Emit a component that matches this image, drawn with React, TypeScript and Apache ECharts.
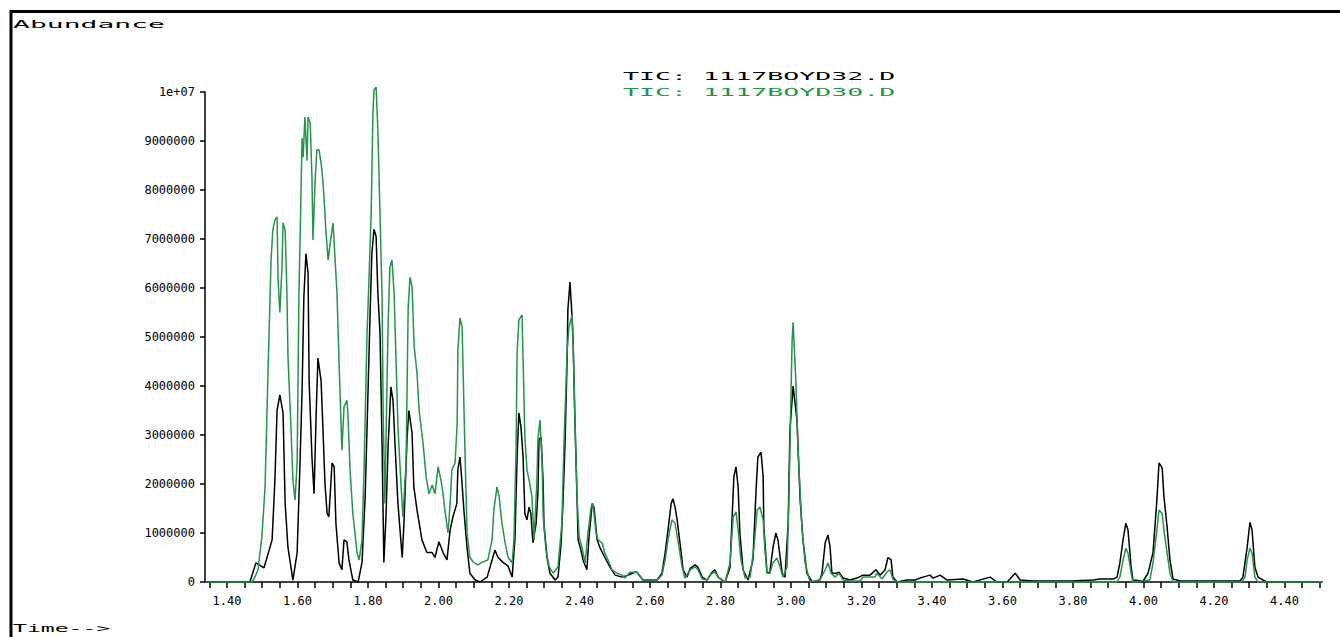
import React, { useEffect, useRef } from "react";
import * as echarts from "echarts";

const SERIES_NAMES = ["TIC: 1117BOYD32.D", "TIC: 1117BOYD30.D"];
const Y_TITLE = "Abundance";
const X_TITLE = "Time-->";

const X_LABELS = [1.4, 1.6, 1.8, 2.0, 2.2, 2.4, 2.6, 2.8, 3.0, 3.2, 3.4, 3.6, 3.8, 4.0, 4.2, 4.4];
const X_TICKS = [
  1.35, 1.4, 1.45, 1.5, 1.55, 1.6, 1.65, 1.7, 1.75, 1.8, 1.85, 1.9, 1.95, 2.0, 2.05, 2.1, 2.15, 2.2, 2.25,
  2.3, 2.35, 2.4, 2.45, 2.5, 2.55, 2.6, 2.65, 2.7, 2.75, 2.8, 2.85, 2.9, 2.95, 3.0, 3.05, 3.1, 3.15, 3.2,
  3.25, 3.3, 3.35, 3.4, 3.45, 3.5, 3.55, 3.6, 3.65, 3.7, 3.75, 3.8, 3.85, 3.9, 3.95, 4.0, 4.05, 4.1, 4.15,
  4.2, 4.25, 4.3, 4.35, 4.4, 4.45, 4.5,
];
const X_MIN = 1.3376;
const X_MAX = 4.5064;
const Y_MAX = 1e7;
const Y_STEP = 1e6;

// TIC: 1117BOYD32.D (black) — [time (min), abundance]
const D32: [number, number][] = [
  [1.338, 0], [1.465, 0], [1.482, 0.39e6], [1.505, 0.29e6], [1.528, 0.86e6], [1.536, 2.08e6], [1.542, 3.5e6],
  [1.55, 3.82e6], [1.559, 3.45e6], [1.565, 1.6e6], [1.573, 0.7e6], [1.587, 0.04e6], [1.599, 0.6e6], [1.607, 2.4e6],
  [1.613, 3.9e6], [1.618, 5.8e6], [1.624, 6.7e6], [1.63, 6.3e6], [1.633, 4.1e6], [1.641, 2.55e6], [1.647, 1.8e6],
  [1.653, 3.45e6], [1.658, 4.57e6], [1.667, 4.1e6], [1.672, 3.16e6], [1.678, 2.0e6], [1.684, 1.4e6], [1.689, 1.33e6],
  [1.698, 2.43e6], [1.704, 2.35e6], [1.709, 1.2e6], [1.718, 0.39e6], [1.726, 0.25e6], [1.732, 0.86e6], [1.74, 0.82e6],
  [1.746, 0.45e6], [1.757, 0.04e6], [1.772, 0], [1.783, 0.4e6], [1.792, 1.74e6], [1.8, 3.86e6], [1.806, 5.5e6],
  [1.811, 6.7e6], [1.817, 7.2e6], [1.823, 7.05e6], [1.828, 5.9e6], [1.834, 5.1e6], [1.84, 2.75e6], [1.845, 0.4e6],
  [1.851, 1.33e6], [1.857, 2.76e6], [1.865, 3.98e6], [1.871, 3.7e6], [1.877, 2.76e6], [1.885, 1.6e6], [1.897, 0.5e6],
  [1.902, 1.2e6], [1.911, 2.96e6], [1.916, 3.5e6], [1.925, 3.04e6], [1.93, 1.94e6], [1.939, 1.47e6], [1.953, 0.86e6],
  [1.967, 0.6e6], [1.982, 0.6e6], [1.99, 0.5e6], [2.001, 0.82e6], [2.013, 0.6e6], [2.024, 0.45e6], [2.033, 1.06e6],
  [2.041, 1.33e6], [2.052, 1.6e6], [2.055, 2.3e6], [2.061, 2.55e6], [2.067, 2.0e6], [2.072, 1.47e6], [2.081, 0.7e6],
  [2.089, 0.18e6], [2.104, 0.04e6], [2.118, 0], [2.138, 0.1e6], [2.152, 0.45e6], [2.16, 0.65e6], [2.169, 0.5e6],
  [2.183, 0.4e6], [2.197, 0.33e6], [2.209, 0.1e6], [2.217, 0.9e6], [2.223, 2.55e6], [2.228, 3.45e6], [2.234, 3.16e6],
  [2.24, 2.55e6], [2.245, 1.4e6], [2.251, 1.27e6], [2.257, 1.53e6], [2.262, 1.4e6], [2.268, 0.8e6], [2.277, 1.2e6],
  [2.282, 1.8e6], [2.285, 2.9e6], [2.291, 2.96e6], [2.297, 2.0e6], [2.299, 1.2e6], [2.308, 0.5e6], [2.316, 0.18e6],
  [2.331, 0.04e6], [2.339, 0.1e6], [2.348, 0.8e6], [2.353, 1.6e6], [2.359, 2.83e6], [2.365, 4.6e6], [2.367, 5.55e6],
  [2.373, 6.12e6], [2.379, 5.4e6], [2.382, 4.88e6], [2.387, 3.3e6], [2.393, 1.74e6], [2.396, 0.86e6], [2.404, 0.65e6],
  [2.41, 0.45e6], [2.421, 0.25e6], [2.427, 0.92e6], [2.436, 1.6e6], [2.441, 1.53e6], [2.45, 0.86e6], [2.458, 0.7e6],
  [2.472, 0.5e6], [2.487, 0.3e6], [2.501, 0.14e6], [2.521, 0.1e6], [2.538, 0.14e6], [2.557, 0.2e6], [2.563, 0.2e6],
  [2.58, 0.04e6], [2.62, 0.04e6], [2.634, 0.18e6], [2.643, 0.6e6], [2.651, 1.06e6], [2.66, 1.6e6], [2.665, 1.7e6],
  [2.671, 1.53e6], [2.677, 1.27e6], [2.685, 0.8e6], [2.694, 0.25e6], [2.705, 0.1e6], [2.714, 0.28e6], [2.728, 0.35e6],
  [2.736, 0.3e6], [2.748, 0.1e6], [2.762, 0.04e6], [2.776, 0.2e6], [2.784, 0.25e6], [2.793, 0.1e6], [2.813, 0],
  [2.827, 0.3e6], [2.833, 1.33e6], [2.838, 2.15e6], [2.844, 2.35e6], [2.85, 1.94e6], [2.855, 1.0e6], [2.864, 0.25e6],
  [2.878, 0.04e6], [2.892, 0.45e6], [2.901, 1.88e6], [2.906, 2.55e6], [2.915, 2.65e6], [2.921, 2.15e6], [2.923, 1.12e6],
  [2.932, 0.18e6], [2.94, 0.2e6], [2.949, 0.7e6], [2.957, 1.0e6], [2.963, 0.86e6], [2.975, 0.18e6], [2.983, 0.1e6],
  [2.992, 1.2e6], [2.997, 3.1e6], [3.006, 4.0e6], [3.017, 3.3e6], [3.026, 1.67e6], [3.034, 0.86e6], [3.045, 0.18e6],
  [3.06, 0], [3.082, 0.04e6], [3.088, 0.18e6], [3.097, 0.8e6], [3.105, 0.96e6], [3.111, 0.7e6], [3.116, 0.18e6],
  [3.131, 0.18e6], [3.136, 0.2e6], [3.148, 0.08e6], [3.167, 0.04e6], [3.187, 0.08e6], [3.204, 0.14e6], [3.224, 0.14e6],
  [3.241, 0.25e6], [3.253, 0.14e6], [3.267, 0.25e6], [3.275, 0.5e6], [3.284, 0.45e6], [3.289, 0.1e6], [3.301, 0],
  [3.329, 0.04e6], [3.352, 0.04e6], [3.366, 0.08e6], [3.375, 0.1e6], [3.394, 0.14e6], [3.403, 0.08e6], [3.423, 0.14e6],
  [3.443, 0.04e6], [3.488, 0.06e6], [3.516, 0], [3.565, 0.1e6], [3.584, 0], [3.613, 0], [3.636, 0.18e6], [3.65, 0.04e6],
  [3.687, 0.02e6], [3.715, 0.02e6], [3.797, 0.02e6], [3.857, 0.04e6], [3.877, 0.06e6], [3.914, 0.06e6], [3.925, 0.1e6],
  [3.933, 0.39e6], [3.942, 0.86e6], [3.95, 1.2e6], [3.956, 1.06e6], [3.965, 0.3e6], [3.97, 0.04e6], [3.999, 0.02e6],
  [4.013, 0.18e6], [4.027, 0.6e6], [4.038, 1.67e6], [4.044, 2.43e6], [4.053, 2.33e6], [4.058, 1.74e6], [4.067, 1.12e6],
  [4.075, 0.45e6], [4.084, 0.06e6], [4.104, 0.02e6], [4.274, 0.02e6], [4.282, 0.1e6], [4.294, 0.7e6], [4.302, 1.22e6],
  [4.308, 1.06e6], [4.316, 0.3e6], [4.325, 0.1e6], [4.339, 0.04e6], [4.35, 0], [4.507, 0],
];

// TIC: 1117BOYD30.D (green) — [time (min), abundance]
const D30: [number, number][] = [
  [1.338, 0], [1.471, 0], [1.474, 0.04e6], [1.479, 0.1e6], [1.488, 0.25e6], [1.499, 0.92e6], [1.508, 1.94e6],
  [1.516, 4.18e6], [1.525, 6.57e6], [1.53, 7.18e6], [1.536, 7.39e6], [1.542, 7.45e6], [1.545, 6.16e6], [1.55, 5.5e6],
  [1.556, 6.43e6], [1.559, 7.33e6], [1.565, 7.18e6], [1.57, 5.9e6], [1.573, 4.6e6], [1.582, 3.04e6], [1.587, 2.08e6],
  [1.593, 1.67e6], [1.599, 2.43e6], [1.604, 5.8e6], [1.613, 9.06e6], [1.616, 8.67e6], [1.621, 9.49e6], [1.627, 8.6e6],
  [1.63, 9.49e6], [1.636, 9.37e6], [1.641, 8.27e6], [1.644, 6.98e6], [1.65, 8.2e6], [1.655, 8.82e6], [1.661, 8.82e6],
  [1.667, 8.55e6], [1.672, 8.2e6], [1.675, 7.86e6], [1.681, 7.12e6], [1.687, 6.57e6], [1.695, 7.04e6], [1.701, 7.33e6],
  [1.704, 6.92e6], [1.712, 5.9e6], [1.718, 4.47e6], [1.726, 2.69e6], [1.732, 3.57e6], [1.74, 3.71e6], [1.743, 3.45e6],
  [1.749, 2.29e6], [1.757, 1.4e6], [1.769, 0.59e6], [1.775, 0.45e6], [1.783, 0.86e6], [1.789, 2.35e6], [1.797, 5.0e6],
  [1.803, 6.22e6], [1.809, 7.53e6], [1.814, 9.57e6], [1.817, 10.04e6], [1.823, 10.1e6], [1.828, 9.22e6], [1.834, 7.53e6],
  [1.84, 5.8e6], [1.843, 3.45e6], [1.848, 1.6e6], [1.854, 4.1e6], [1.857, 5.2e6], [1.862, 6.43e6], [1.868, 6.57e6],
  [1.874, 5.9e6], [1.879, 4.67e6], [1.885, 3.16e6], [1.894, 1.94e6], [1.899, 1.33e6], [1.908, 2.43e6], [1.914, 5.6e6],
  [1.919, 6.22e6], [1.925, 6.02e6], [1.931, 4.8e6], [1.939, 4.27e6], [1.945, 3.51e6], [1.956, 2.84e6], [1.965, 2.14e6],
  [1.973, 1.8e6], [1.982, 1.98e6], [1.99, 1.8e6], [1.999, 2.35e6], [2.007, 2.08e6], [2.013, 1.8e6], [2.018, 1.47e6],
  [2.027, 1.0e6], [2.033, 1.6e6], [2.038, 2.29e6], [2.047, 2.43e6], [2.053, 3.24e6], [2.055, 4.73e6], [2.061, 5.39e6],
  [2.067, 5.2e6], [2.07, 4.27e6], [2.075, 2.69e6], [2.081, 1.0e6], [2.089, 0.51e6], [2.098, 0.41e6], [2.112, 0.35e6],
  [2.126, 0.41e6], [2.14, 0.45e6], [2.152, 0.86e6], [2.157, 1.47e6], [2.166, 1.94e6], [2.172, 1.74e6], [2.18, 1.2e6],
  [2.189, 0.8e6], [2.197, 0.51e6], [2.209, 0.39e6], [2.214, 0.86e6], [2.22, 2.69e6], [2.223, 4.67e6], [2.228, 5.35e6],
  [2.237, 5.45e6], [2.24, 4.53e6], [2.245, 2.96e6], [2.251, 2.29e6], [2.257, 2.08e6], [2.265, 1.74e6], [2.271, 0.86e6],
  [2.279, 2.02e6], [2.282, 2.9e6], [2.288, 3.31e6], [2.294, 2.43e6], [2.297, 1.33e6], [2.305, 0.65e6], [2.314, 0.31e6],
  [2.325, 0.18e6], [2.339, 0.31e6], [2.35, 1.2e6], [2.356, 2.84e6], [2.365, 4.73e6], [2.37, 5.2e6], [2.379, 5.45e6],
  [2.382, 4.88e6], [2.387, 3.37e6], [2.393, 1.74e6], [2.399, 0.92e6], [2.407, 0.71e6], [2.416, 0.39e6], [2.424, 1.0e6],
  [2.433, 1.53e6], [2.438, 1.6e6], [2.447, 1.0e6], [2.453, 0.86e6], [2.464, 0.8e6], [2.472, 0.59e6], [2.481, 0.45e6],
  [2.492, 0.25e6], [2.506, 0.18e6], [2.521, 0.14e6], [2.529, 0.08e6], [2.543, 0.2e6], [2.557, 0.2e6], [2.563, 0.2e6],
  [2.58, 0.04e6], [2.62, 0.04e6], [2.634, 0.14e6], [2.643, 0.45e6], [2.651, 0.86e6], [2.662, 1.27e6], [2.671, 1.2e6],
  [2.679, 0.86e6], [2.691, 0.31e6], [2.699, 0.08e6], [2.714, 0.25e6], [2.728, 0.31e6], [2.736, 0.25e6], [2.748, 0.06e6],
  [2.762, 0.04e6], [2.776, 0.18e6], [2.784, 0.2e6], [2.799, 0.06e6], [2.813, 0], [2.827, 0.39e6], [2.836, 1.33e6],
  [2.844, 1.43e6], [2.85, 1.06e6], [2.858, 0.45e6], [2.87, 0.08e6], [2.884, 0.1e6], [2.895, 0.71e6], [2.904, 1.47e6],
  [2.912, 1.53e6], [2.921, 1.27e6], [2.926, 0.65e6], [2.932, 0.18e6], [2.94, 0.18e6], [2.949, 0.39e6], [2.96, 0.49e6],
  [2.969, 0.31e6], [2.977, 0.1e6], [2.989, 0.31e6], [2.994, 1.67e6], [3.003, 4.9e6], [3.006, 5.3e6], [3.014, 4.06e6],
  [3.02, 2.69e6], [3.031, 1.12e6], [3.04, 0.39e6], [3.054, 0], [3.082, 0.04e6], [3.097, 0.25e6], [3.105, 0.39e6],
  [3.114, 0.18e6], [3.125, 0.1e6], [3.136, 0.18e6], [3.148, 0.04e6], [3.167, 0.02e6], [3.196, 0.02e6], [3.204, 0.1e6],
  [3.238, 0.1e6], [3.244, 0.18e6], [3.258, 0.06e6], [3.272, 0.2e6], [3.281, 0.25e6], [3.289, 0.06e6], [3.301, 0],
  [3.925, 0], [3.933, 0.1e6], [3.942, 0.45e6], [3.95, 0.69e6], [3.956, 0.59e6], [3.965, 0.18e6], [3.97, 0],
  [4.018, 0.04e6], [4.027, 0.39e6], [4.038, 1.06e6], [4.044, 1.47e6], [4.053, 1.4e6], [4.058, 1.06e6], [4.067, 0.59e6],
  [4.075, 0.18e6], [4.084, 0], [4.279, 0], [4.288, 0.1e6], [4.294, 0.45e6], [4.302, 0.69e6], [4.308, 0.59e6],
  [4.316, 0.1e6], [4.325, 0], [4.507, 0],
];

const BLACK = "#000000";
const GREEN = "#23954b";
const MONO = "'DejaVu Sans Mono', 'Liberation Mono', monospace";

export default function App() {
  const ref = useRef<HTMLDivElement>(null);

  useEffect(() => {
    if (!ref.current) return;
    const chart = echarts.init(ref.current, null, { renderer: "svg" });

    const textEl = (text: string, x: number, y: number, scaleX: number, color: string) => ({
      type: "text",
      x,
      y,
      scaleX,
      scaleY: 1,
      silent: true,
      style: {
        text,
        fill: color,
        fontFamily: MONO,
        fontSize: 11,
        textAlign: "left",
        textVerticalAlign: "middle",
        align: "left",
        verticalAlign: "middle",
      },
    });

    chart.setOption({
      animation: false,
      backgroundColor: "#ffffff",
      grid: { left: 205, right: 18, top: 92, bottom: 55, containLabel: false },
      xAxis: {
        type: "value",
        min: X_MIN,
        max: X_MAX,
        axisLine: { show: true, onZero: false, lineStyle: { color: BLACK, width: 1.5 } },
        axisTick: { show: true, customValues: X_TICKS, length: 6, lineStyle: { color: BLACK, width: 1.5 } },
        axisLabel: {
          customValues: X_LABELS,
          formatter: (v: number) => v.toFixed(2),
          color: BLACK,
          fontFamily: MONO,
          fontSize: 12,
          margin: 13,
        },
        splitLine: { show: false },
      },
      yAxis: {
        type: "value",
        min: 0,
        max: Y_MAX,
        interval: Y_STEP,
        axisLine: { show: true, lineStyle: { color: BLACK, width: 1.5 } },
        axisTick: { show: true, length: 5, lineStyle: { color: BLACK, width: 1.5 } },
        axisLabel: {
          formatter: (v: number) => (v === Y_MAX ? "1e+07" : String(v)),
          color: BLACK,
          fontFamily: MONO,
          fontSize: 12,
          margin: 10,
        },
        splitLine: { show: false },
      },
      graphic: [
        { type: "line", silent: true, shape: { x1: 11, y1: 10, x2: 11, y2: 637 }, style: { stroke: BLACK, lineWidth: 3 } },
        { type: "line", silent: true, shape: { x1: 10, y1: 11.5, x2: 1340, y2: 11.5 }, style: { stroke: BLACK, lineWidth: 3 } },
        textEl(Y_TITLE, 13, 24, 2.55, BLACK),
        textEl(X_TITLE, 13, 628, 2.1, BLACK),
        textEl(SERIES_NAMES[0], 623, 76, 2.42, BLACK),
        textEl(SERIES_NAMES[1], 623, 92.5, 2.42, GREEN),
      ],
      series: [
        {
          name: SERIES_NAMES[0],
          type: "line",
          data: D32,
          symbol: "none",
          showSymbol: false,
          clip: false,
          lineStyle: { color: BLACK, width: 1.5 },
          itemStyle: { color: BLACK },
          z: 2,
        },
        {
          name: SERIES_NAMES[1],
          type: "line",
          data: D30,
          symbol: "none",
          showSymbol: false,
          clip: false,
          lineStyle: { color: GREEN, width: 1.5 },
          itemStyle: { color: GREEN },
          z: 3,
        },
      ],
    });

    return () => chart.dispose();
  }, []);

  return (
    <div
      ref={ref}
      style={{ position: "fixed", left: 0, top: 0, width: 1340, height: 637, background: "#ffffff" }}
    />
  );
}
